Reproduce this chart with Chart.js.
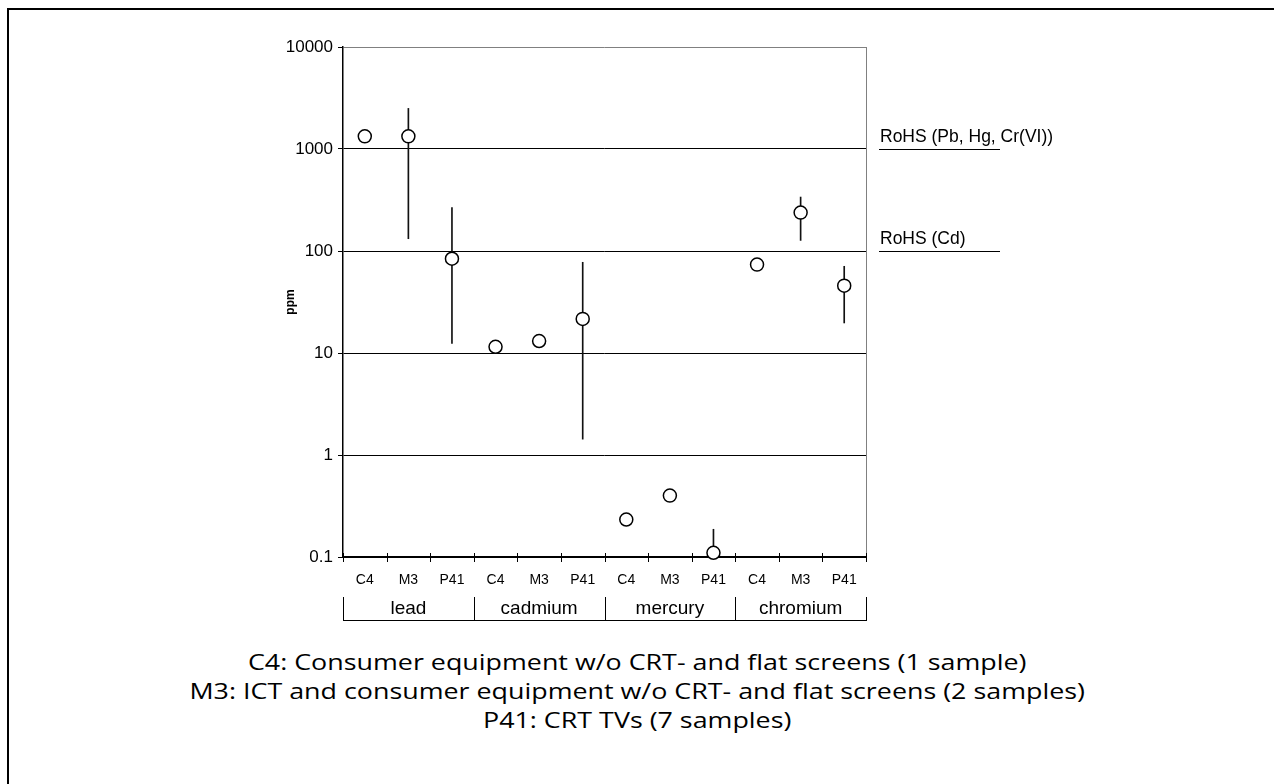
<!DOCTYPE html>
<html>
<head>
<meta charset="utf-8">
<title>ppm by metal and sample group</title>
<script src="https://cdn.jsdelivr.net/npm/chart.js@4.4.1/dist/chart.umd.min.js"></script>
<style>
  html, body { margin: 0; padding: 0; background: #fff; width: 1274px; height: 784px; overflow: hidden; }
  #frame { position: absolute; left: 7px; top: 8px; width: 1300px; height: 820px; border-left: 2px solid #000; border-top: 2px solid #000; }
  #wrap { position: absolute; left: 0; top: 0; width: 1274px; height: 640px; }
  #caption { position: absolute; left: 0; top: 647px; width: 1274px; text-align: center;
    font-family: "Open Sans", sans-serif; font-size: 22px; line-height: 29px; color: #000;
    transform: scaleX(1.22); transform-origin: 636px 0; }
</style>
</head>
<body>
<div id="frame"></div>
<div id="wrap"><canvas id="chart" width="1274" height="640"></canvas></div>
<div id="caption">
  <div>C4: Consumer equipment w/o CRT- and flat screens (1 sample)</div>
  <div>M3: ICT and consumer equipment w/o CRT- and flat screens (2 samples)</div>
  <div>P41: CRT TVs (7 samples)</div>
</div>
<script>
// sample groups, repeated for each metal
const categories = ['C4', 'M3', 'P41', 'C4', 'M3', 'P41', 'C4', 'M3', 'P41', 'C4', 'M3', 'P41'];
const metals = ['lead', 'cadmium', 'mercury', 'chromium'];

// mean concentration and min/max range (ppm); null = single sample, no range
const meanPpm = [1330, 1330, 84, 11.5, 13.1, 21.6, 0.233, 0.40, 0.110, 73.6, 238, 45.7];
const lowPpm  = [null, 132, 12.4, null, null, 1.43, null, null, 0.1, null, 127, 19.7];
const highPpm = [null, 2500, 266, null, null, 77.5, null, null, 0.187, null, 338, 70.8];

const yTicks = [0.1, 1, 10, 100, 1000, 10000];

// RoHS limit values
const rohsLimits = [1000, 100];
const rohsLabels = ['RoHS (Pb, Hg, Cr(VI))', 'RoHS (Cd)'];

const FONT = 'Liberation Sans, Arial, sans-serif';

// crossing tick marks on the category axis, metal brackets and RoHS markers
const extras = {
  id: 'extras',
  afterDraw(chart) {
    const { ctx, chartArea } = chart;
    const x = chart.scales.x, y = chart.scales.y;
    const n = categories.length;
    ctx.save();
    ctx.lineWidth = 1;

    // plot border on the right
    ctx.strokeStyle = '#808080';
    ctx.beginPath();
    ctx.moveTo(Math.round(chartArea.right) + 0.5, chartArea.top);
    ctx.lineTo(Math.round(chartArea.right) + 0.5, chartArea.bottom);
    ctx.stroke();

    ctx.strokeStyle = '#000';
    const bottom = Math.round(chartArea.bottom);
    for (let i = 0; i <= n; i++) {
      const px = Math.round(x.getPixelForValue(i - 0.5)) + 0.5;
      ctx.beginPath();
      ctx.moveTo(px, bottom - 4);
      ctx.lineTo(px, bottom + 5);
      ctx.stroke();
    }

    // metal brackets
    const top = bottom + 40, base = bottom + 63;
    const per = n / metals.length;
    ctx.beginPath();
    for (let g = 0; g <= metals.length; g++) {
      const px = Math.round(x.getPixelForValue(g * per - 0.5)) + 0.5;
      ctx.moveTo(px, top);
      ctx.lineTo(px, base);
    }
    ctx.moveTo(Math.round(x.getPixelForValue(-0.5)), base + 0.5);
    ctx.lineTo(Math.round(x.getPixelForValue(n - 0.5)) + 1, base + 0.5);
    ctx.stroke();

    ctx.fillStyle = '#000';
    ctx.font = '19px ' + FONT;
    ctx.textAlign = 'center';
    ctx.textBaseline = 'alphabetic';
    metals.forEach((m, g) => {
      const cx = (x.getPixelForValue(g * per - 0.5) + x.getPixelForValue((g + 1) * per - 0.5)) / 2;
      ctx.fillText(m, cx, bottom + 57);
    });

    // RoHS limits, drawn outside the plot on the right
    ctx.textAlign = 'left';
    ctx.font = '17.5px ' + FONT;
    rohsLimits.forEach((v, i) => {
      const py = Math.round(y.getPixelForValue(v)) + 0.5;
      const x0 = chartArea.right + 13, x1 = chartArea.right + 134;
      ctx.beginPath();
      ctx.moveTo(x0, py);
      ctx.lineTo(x1, py);
      ctx.stroke();
      ctx.fillText(rohsLabels[i], x0 + 1, py - 8);
    });
    ctx.restore();
  }
};

new Chart(document.getElementById('chart'), {
  type: 'bar',
  data: {
    labels: categories,
    datasets: [
      {
        type: 'line',
        label: 'mean',
        data: meanPpm,
        showLine: false,
        pointStyle: 'circle',
        pointRadius: 6.5,
        pointBorderWidth: 1.5,
        pointBackgroundColor: '#fff',
        pointBorderColor: '#000',
        clip: false,
        order: 0
      },
      {
        type: 'bar',
        label: 'range',
        data: categories.map((_, i) => lowPpm[i] == null ? null : [lowPpm[i], highPpm[i]]),
        backgroundColor: '#111',
        borderWidth: 0,
        barThickness: 1,
        grouped: false,
        order: 1
      }
    ]
  },
  options: {
    responsive: false,
    animation: false,
    events: [],
    layout: { padding: { left: 270, top: 47, right: 408, bottom: 13 } },
    plugins: { legend: { display: false }, tooltip: { enabled: false } },
    scales: {
      x: {
        type: 'category',
        offset: true,
        grid: { display: true, offset: true, drawOnChartArea: false, drawTicks: false },
        border: { display: true, color: '#000', width: 1.5 },
        ticks: { color: '#000', font: { family: FONT, size: 14 }, padding: 15, maxRotation: 0, autoSkip: false },
        afterFit(s) { s.height = 70; }
      },
      y: {
        type: 'logarithmic',
        min: 0.1,
        max: 10000,
        afterBuildTicks(s) { s.ticks = yTicks.map(v => ({ value: v, major: true })); },
        ticks: { color: '#000', font: { family: FONT, size: 17 }, padding: 5, callback: v => String(v) },
        grid: {
          color: c => c.tick && c.tick.value === 10000 ? '#808080' : '#000',
          lineWidth: 1,
          tickLength: 5,
          tickColor: '#000'
        },
        border: { display: true, color: '#000', width: 1.5 },
        title: { display: true, text: 'ppm', color: '#000', font: { family: FONT, size: 12, weight: 'bold' }, padding: { top: 13, bottom: 0 } },
        afterFit(s) { s.width = 73; }
      }
    }
  },
  plugins: [extras]
});
</script>
</body>
</html>
